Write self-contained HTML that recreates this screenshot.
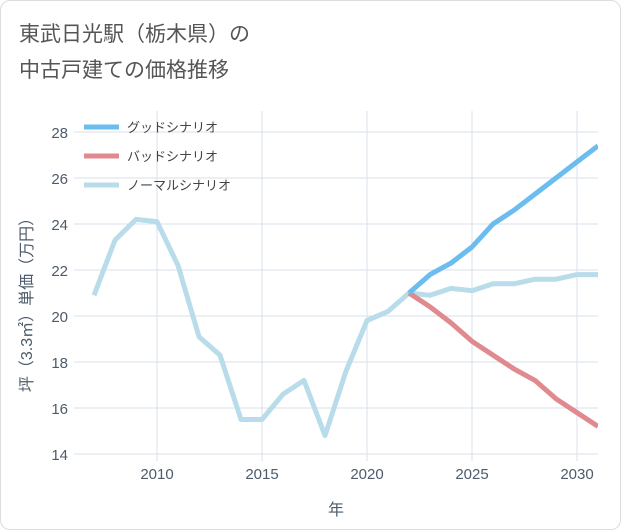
<!DOCTYPE html>
<html><head><meta charset="utf-8">
<style>
body{margin:0;background:#fff;}
#wrap{position:relative;width:619px;height:528px;border:1px solid #ddd;border-radius:10px;background:#fff;overflow:hidden;font-family:"Liberation Sans","Noto Sans CJK JP",sans-serif;}
svg text{font-family:"Liberation Sans","Noto Sans CJK JP",sans-serif;}
</style></head>
<body>
<div id="wrap">
<svg id="chart" width="621" height="530"></svg>
</div>
<script>
const years=[2007,2008,2009,2010,2011,2012,2013,2014,2015,2016,2017,2018,2019,2020,2021,2022,2023,2024,2025,2026,2027,2028,2029,2030,2031];
const normalVals=[20.9,23.3,24.2,24.1,22.2,19.1,18.3,15.5,15.5,16.6,17.2,14.8,17.6,19.8,20.2,21.0,20.9,21.2,21.1,21.4,21.4,21.6,21.6,21.8,21.8];
const futureYears=[2022,2023,2024,2025,2026,2027,2028,2029,2030,2031];
const goodVals=[21.0,21.8,22.3,23.0,24.0,24.6,25.3,26.0,26.7,27.4];
const badVals=[21.0,20.4,19.7,18.9,18.3,17.7,17.2,16.4,15.8,15.2];
const xTicks=[2010,2015,2020,2025,2030];
const yTicks=[14,16,18,20,22,24,26,28];
const legendLabels=["グッドシナリオ","バッドシナリオ","ノーマルシナリオ"];
const colors=["#6bbcef","#e08a90","#b9dcea"];

const L=73,R=597,T=110,B=460;
const x=v=>156+(v-2010)*21;
const y=v=>131+(28-v)*23;
const svg=document.getElementById('chart');
const NS='http://www.w3.org/2000/svg';
function mk(t,a,p){const e=document.createElementNS(NS,t);for(const k in a)e.setAttribute(k,a[k]);(p||svg).appendChild(e);return e;}

let e;
e=mk('text',{x:18,y:40,'font-size':21,fill:'#555'});e.textContent='東武日光駅（栃木県）の';


e=mk('text',{x:18,y:76,'font-size':21,fill:'#555'});e.textContent='中古戸建ての価格推移';



const grid=mk('g',{});


xTicks.forEach(v=>{
  mk('line',{x1:x(v),x2:x(v),y1:T,y2:B,stroke:'#d8e0ea','stroke-width':1},grid);
  const t=mk('text',{x:x(v),y:478,'font-size':15,fill:'#4d5b6b','text-anchor':'middle'});t.textContent=v;
  
  
});
yTicks.forEach(v=>{
  mk('line',{x1:L,x2:R,y1:y(v),y2:y(v),stroke:'#d8e0ea','stroke-width':1},grid);
  const t=mk('text',{x:67,y:y(v)+6,'font-size':15,fill:'#4d5b6b','text-anchor':'end'});t.textContent=v;
  
  
});
e=mk('text',{x:335,y:514,'font-size':16,fill:'#4d5b6b','text-anchor':'middle'});e.textContent='年';


e=mk('text',{x:0,y:0,'font-size':16,fill:'#4d5b6b','text-anchor':'middle',transform:'translate(31,300) rotate(-90)'});e.textContent='坪（3.3㎡）単価（万円）';



const cp=mk('clipPath',{id:'cp'});
mk('rect',{x:L,y:T,width:R-L,height:B-T},cp);

function line(xs,vs,c,name){
  const p=mk('polyline',{points:xs.map((v,i)=>x(v)+','+y(vs[i])).join(' '),fill:'none',stroke:c,'stroke-width':5,'stroke-linejoin':'round','clip-path':'url(#cp)'});
  
  
}
line(years,normalVals,colors[2],'normal-scenario-line');
line(futureYears,badVals,colors[1],'bad-scenario-line');
line(futureYears,goodVals,colors[0],'good-scenario-line');

legendLabels.forEach((lab,i)=>{
  const g=mk('g',{});
  
  
  const yy=126+i*29;
  mk('line',{x1:83,x2:118,y1:yy,y2:yy,stroke:colors[i],'stroke-width':5},g);
  const t=mk('text',{x:126,y:yy+5,'font-size':13,fill:'#444'},g);t.textContent=lab;
});
</script>
</body></html>
